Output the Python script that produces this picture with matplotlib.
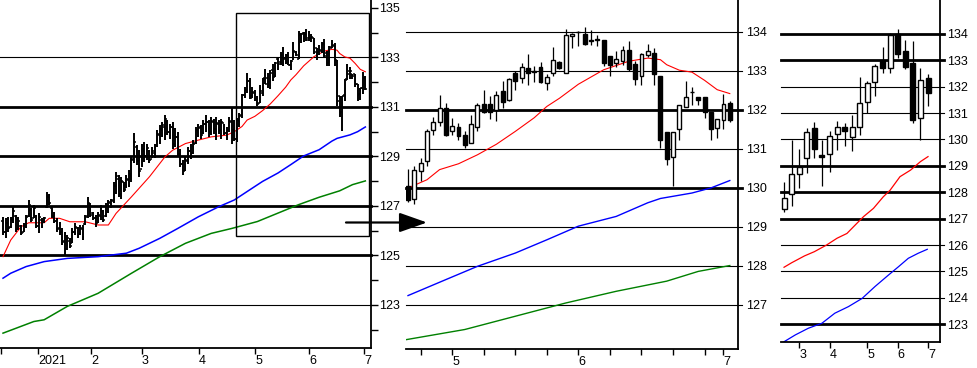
import matplotlib
matplotlib.use('Agg')
import matplotlib.pyplot as plt
from matplotlib.patches import Rectangle, FancyArrowPatch

plt.rcParams['font.family'] = ['Liberation Sans', 'DejaVu Sans']
plt.rcParams['font.size'] = 9

# ---- daily prices, mid Dec 2020 .. 2 Jul 2021 (x = trading day index) ----
d_open = [126.40, 125.95, 126.30, 126.15, 126.45, 126.60, 126.10, 126.20, 125.95, 126.20,
          126.60, 126.85, 126.50, 126.60, 126.20, 126.45, 126.35, 126.95, 127.35, 126.90,
          126.60, 126.40, 126.10, 125.95, 125.60, 125.25, 125.60, 125.50, 125.95, 126.10,
          125.85, 126.05, 126.25, 126.60, 127.00, 126.70, 126.50, 126.30, 126.60, 126.80,
          126.60, 126.90, 127.10, 127.20, 127.80, 128.10, 127.50, 127.95, 127.70, 128.05,
          128.20, 128.90, 129.40, 128.80, 128.50, 129.20, 129.00, 129.20, 128.90, 129.15,
          129.45, 129.85, 130.05, 130.20, 130.40, 130.00, 130.20, 129.50, 129.80, 129.10,
          128.70, 128.45, 128.80, 129.20, 129.15, 129.55, 130.00, 130.20, 129.95, 130.30,
          130.40, 130.00, 130.40, 130.10, 130.30, 130.05, 130.35, 129.95, 130.05, 130.40,
          130.06, 129.72, 130.43, 130.68, 131.48, 131.68, 132.05, 131.45, 131.56, 131.37,
          131.14, 131.56, 132.16, 132.16, 132.00, 132.48, 132.25, 132.95, 132.82, 133.08,
          132.98, 133.10, 132.68, 132.95, 133.23, 132.95, 133.90, 133.99, 133.96, 133.78,
          133.80, 133.79, 133.39, 133.20, 133.25, 133.53, 133.18, 132.86, 133.40, 133.46,
          132.88, 131.44, 130.79, 131.50, 132.08, 132.45, 132.33, 132.33, 131.94, 131.54,
          131.75, 132.18]
d_high = [126.57, 126.50, 126.57, 126.57, 126.97, 126.63, 126.57, 126.23, 126.30, 126.63,
          127.24, 126.90, 127.04, 126.63, 126.70, 126.50, 126.57, 127.57, 127.50, 126.97,
          126.77, 126.50, 126.37, 126.10, 125.96, 125.83, 125.69, 126.10, 126.30, 126.16,
          126.23, 126.23, 126.63, 127.37, 127.10, 126.77, 126.63, 126.77, 127.04, 126.83,
          127.10, 127.24, 127.30, 127.98, 128.38, 128.25, 128.18, 127.98, 128.25, 128.45,
          128.99, 129.93, 129.46, 129.25, 129.52, 129.59, 129.52, 129.25, 129.39, 129.52,
          130.06, 130.26, 130.40, 130.67, 130.46, 130.33, 130.40, 130.13, 129.99, 129.30,
          128.85, 129.00, 129.40, 129.50, 129.65, 130.20, 130.33, 130.26, 130.46, 130.66,
          130.46, 130.60, 130.50, 130.60, 130.46, 130.53, 130.33, 130.20, 130.60, 131.00,
          130.49, 130.57, 130.77, 131.51, 131.82, 132.39, 132.18, 131.79, 131.67, 131.45,
          131.88, 132.18, 132.52, 132.37, 132.48, 132.73, 132.82, 132.99, 133.20, 133.44,
          133.12, 133.22, 132.91, 133.62, 133.25, 134.08, 133.97, 134.02, 134.13, 134.06,
          133.93, 133.79, 133.39, 133.50, 133.63, 133.76, 133.25, 133.47, 133.70, 133.59,
          132.88, 131.44, 131.44, 132.14, 132.74, 132.60, 132.33, 132.33, 131.94, 131.78,
          132.41, 132.24]
d_low = [125.83, 125.69, 125.96, 126.10, 126.30, 125.96, 126.03, 125.83, 125.96, 126.10,
         126.57, 126.37, 126.50, 126.10, 125.90, 126.10, 126.30, 126.90, 127.04, 126.50,
         126.30, 125.96, 125.83, 125.42, 125.02, 125.22, 125.29, 125.49, 125.83, 125.69,
         125.83, 125.63, 126.23, 126.50, 126.57, 126.43, 126.16, 126.30, 126.43, 126.36,
         126.57, 126.70, 126.90, 127.10, 127.50, 127.37, 127.30, 127.57, 127.71, 127.78,
         127.98, 128.72, 128.65, 128.18, 128.58, 128.78, 128.85, 128.72, 128.92, 128.92,
         129.39, 129.52, 129.79, 129.66, 129.86, 129.72, 129.32, 129.39, 128.99, 128.58,
         128.24, 128.40, 128.70, 128.90, 129.10, 129.50, 129.80, 129.70, 129.92, 129.99,
         129.80, 129.86, 129.90, 129.66, 129.92, 129.72, 129.86, 129.66, 130.00, 129.50,
         129.63, 129.59, 130.19, 130.56, 131.37, 131.58, 131.32, 131.37, 131.24, 131.03,
         131.14, 131.45, 131.91, 131.77, 131.71, 132.05, 132.22, 132.50, 132.68, 132.65,
         132.72, 132.70, 132.50, 132.88, 133.05, 132.95, 133.59, 133.63, 133.67, 133.67,
         133.63, 133.13, 132.88, 133.11, 133.16, 132.99, 132.65, 132.65, 133.37, 132.65,
         131.03, 130.60, 130.04, 131.22, 132.08, 132.14, 132.14, 131.79, 131.24, 131.28,
         131.52, 131.68]
d_close = [125.95, 126.30, 126.10, 126.45, 126.80, 126.05, 126.40, 125.90, 126.20, 126.55,
           127.05, 126.45, 126.90, 126.20, 126.55, 126.20, 126.50, 127.40, 127.10, 126.60,
           126.40, 126.05, 125.95, 125.55, 125.15, 125.70, 125.40, 125.95, 126.15, 125.80,
           126.10, 125.75, 126.55, 127.10, 126.65, 126.50, 126.30, 126.65, 126.90, 126.45,
           126.95, 127.15, 127.25, 127.85, 128.20, 127.50, 128.00, 127.65, 128.10, 128.30,
           128.85, 129.60, 128.80, 128.40, 129.30, 129.00, 129.35, 128.85, 129.20, 129.40,
           129.90, 130.10, 130.25, 130.50, 130.00, 130.20, 129.50, 129.80, 129.10, 128.70,
           128.40, 128.85, 129.20, 129.10, 129.50, 130.05, 130.15, 129.85, 130.30, 130.40,
           129.95, 130.45, 130.10, 130.35, 130.05, 130.40, 129.95, 129.80, 130.45, 130.05,
           129.70, 130.47, 130.64, 131.47, 131.69, 132.05, 131.37, 131.60, 131.34, 131.11,
           131.64, 132.14, 131.94, 131.94, 132.39, 132.20, 132.79, 132.74, 133.09, 132.95,
           133.00, 132.71, 132.85, 133.27, 133.08, 133.93, 133.95, 134.00, 133.69, 133.80,
           133.81, 133.21, 133.16, 133.31, 133.53, 133.05, 132.79, 133.44, 133.50, 132.91,
           131.24, 130.74, 131.44, 132.14, 132.33, 132.46, 132.25, 131.94, 131.50, 131.78,
           132.15, 131.73]

# daily moving averages, read at (day index, value)
ma_red_x = [0, 3, 7, 10, 16, 18, 22, 26, 32, 37, 41, 44, 50, 57, 63, 66, 71, 76, 81, 87,
            90, 93, 95, 98, 101, 104, 107, 110, 112, 114, 117, 121, 125, 128, 130, 131,
            133, 135, 137, 139, 141]
ma_red = [124.95, 125.62, 126.16, 126.32, 126.32, 126.50, 126.50, 126.36, 126.36, 126.23,
          126.23, 126.70, 127.37, 128.18, 128.98, 129.25, 129.52, 129.66, 129.79, 129.86,
          130.00, 130.21, 130.47, 130.62, 130.85, 131.12, 131.45, 131.80, 132.09, 132.30,
          132.66, 133.03, 133.25, 133.33, 133.29, 133.16, 133.02, 132.97, 132.76, 132.52,
          132.42]
ma_blue_x = [0, 3, 9, 16, 25, 37, 48, 53, 61, 68, 76, 84, 90, 96, 101, 107, 112, 117,
             123, 128, 130, 135, 138, 141]
ma_blue = [124.08, 124.28, 124.55, 124.75, 124.88, 124.95, 125.09, 125.29, 125.69, 126.09,
           126.56, 126.97, 127.24, 127.65, 127.99, 128.33, 128.67, 129.02, 129.27, 129.62,
           129.73, 129.87, 130.00, 130.19]
ma_green_x = [0, 12, 16, 25, 37, 50, 61, 71, 81, 89, 99, 107, 115, 123, 131, 136, 141]
ma_green = [121.86, 122.33, 122.40, 122.94, 123.47, 124.28, 124.95, 125.49, 125.89, 126.09,
            126.37, 126.71, 127.05, 127.35, 127.61, 127.86, 128.01]

# ---- weekly candles (x = week index) ----
w_open = [127.37, 127.93, 128.71, 129.28, 130.42, 129.41, 129.43, 130.20, 130.48, 130.10,
          130.46, 131.40, 132.16, 132.97, 132.69, 133.99, 133.36, 132.88, 130.80, 132.31]
w_high = [128.37, 129.98, 129.64, 130.42, 130.67, 129.98, 130.32, 130.71, 130.61, 130.92,
          132.35, 132.21, 132.85, 133.51, 134.04, 134.17, 133.76, 133.72, 132.69, 132.48]
w_low = [127.26, 127.49, 128.17, 128.74, 129.28, 128.25, 128.78, 129.60, 129.76, 129.57,
         130.17, 130.99, 131.64, 132.50, 132.53, 133.09, 132.66, 130.61, 129.98, 131.28]
w_close = [127.79, 128.68, 128.97, 130.27, 129.62, 129.32, 130.14, 130.48, 130.33, 130.48,
           131.37, 132.12, 132.78, 132.71, 133.95, 133.22, 132.75, 130.73, 132.25, 131.74]
wma_red_x = [0, 1, 2.7, 4, 5.6, 7, 8.3, 9.6, 10.5, 11.8, 13.1, 14, 15.3, 16.7, 18, 19]
wma_red = [125.16, 125.33, 125.59, 125.75, 126.00, 126.26, 126.44, 126.82, 127.08, 127.39,
           127.83, 128.08, 128.59, 128.84, 129.16, 129.35]
wma_blue_x = [0, 1.5, 3.2, 5, 6.7, 8.5, 10.3, 12, 13.8, 15.1, 16.4, 17.7, 18.9]
wma_blue = [122.34, 122.60, 122.85, 123.04, 123.42, 123.67, 123.98, 124.43, 124.87, 125.18,
            125.50, 125.69, 125.84]

W, H = 978, 368
fig = plt.figure(figsize=(W / 100, H / 100), dpi=100)


def add_ax(x0, x1, ybot):
    ax = fig.add_axes([x0 / W, (H - ybot) / H, (x1 - x0) / W, ybot / H])
    for s in ['top', 'left']:
        ax.spines[s].set_visible(False)
    ax.spines['right'].set_linewidth(1.3)
    ax.spines['bottom'].set_linewidth(1.3)
    ax.yaxis.tick_right()
    ax.tick_params(axis='x', direction='out', length=4, width=1, pad=1)
    return ax


def hgrid(ax, levels, thick, ext):
    for v in levels:
        ax.plot([0, 1 + ext], [v, v], transform=ax.get_yaxis_transform(), color='black',
                lw=2.0 if v in thick else 0.8, zorder=1, clip_on=False)


def candles(ax, xs, o, h, l, c, w):
    for x, oo, hh, ll, cc in zip(xs, o, h, l, c):
        ax.vlines(x, ll, hh, color='black', lw=0.9, zorder=3)
        lo = min(oo, cc)
        ht = max(abs(cc - oo), 0.02)
        face = 'white' if cc > oo else 'black'
        ax.add_patch(Rectangle((x - w / 2, lo), w, ht, facecolor=face, edgecolor='black',
                               lw=1.0, zorder=4))


xs = list(range(len(d_close)))

# ---- left: daily bars ----
ax1 = add_ax(0, 371, 348)
ax1.set_xlim(-1.17, 143.2)
ax1.set_ylim(121.26, 135.32)
hgrid(ax1, [123, 125, 127, 129, 131, 133], [125, 127, 129, 131], 0)
ax1.plot(ma_red_x, ma_red, color='#ff0000', lw=0.8, zorder=2)
ax1.plot(ma_blue_x, ma_blue, color='#0000ff', lw=1.1, zorder=2)
ax1.plot(ma_green_x, ma_green, color='#008000', lw=1.1, zorder=2)
ax1.vlines(xs, d_low, d_high, color='black', lw=1.4, zorder=3)
ax1.hlines(d_open, [x - 0.7 for x in xs], xs, color='black', lw=1.1, zorder=3)
ax1.hlines(d_close, xs, [x + 0.7 for x in xs], color='black', lw=1.1, zorder=3)
ax1.add_patch(Rectangle((90.7, 125.79), 51.7, 9.02, fill=False, edgecolor='black',
                        lw=1.0, zorder=5, clip_on=False))
ax1.set_yticks([123, 125, 127, 129, 131, 133, 135])
ax1.set_yticks([122, 124, 126, 128, 130, 132, 134], minor=True)
ax1.tick_params(axis='y', which='both', direction='out', length=5, width=1, pad=1)
ax1.set_xticks([-0.8, 13.6, 34.2, 54.1, 76.3, 98.1, 119.1, 140.5])
ax1.set_xticklabels(['', '2021', '2', '3', '4', '5', '6', '7'], ha='left')

# ---- middle: zoomed daily candles ----
ax2 = add_ax(406, 738, 349)
ax2.set_xlim(89.68, 142.3)
ax2.set_ylim(125.87, 134.82)
hgrid(ax2, [127, 128, 129, 130, 131, 132, 133, 134], [130, 132], 4 / 332)
ax2.plot(ma_red_x[20:], ma_red[20:], color='#ff0000', lw=0.8, zorder=2)
ax2.plot(ma_blue_x[12:], ma_blue[12:], color='#0000ff', lw=1.0, zorder=2)
ax2.plot(ma_green_x[9:], ma_green[9:], color='#008000', lw=1.0, zorder=2)
candles(ax2, xs[90:], d_open[90:], d_high[90:], d_low[90:], d_close[90:], 0.62)
ax2.set_yticks([127, 128, 129, 130, 131, 132, 133, 134])
ax2.tick_params(axis='y', length=0, pad=6)
ax2.set_xticks([97, 117, 140])
ax2.set_xticklabels(['5', '6', '7'], ha='left')
ax2.set_xticks([92, 102, 107, 112, 122, 127, 132, 137], minor=True)
ax2.tick_params(axis='x', which='minor', direction='out', length=4, width=1)

# ---- right: weekly candles ----
wx = list(range(len(w_close)))
ax3 = add_ax(781, 940, 342)
ax3.set_xlim(-0.4, 20.58)
ax3.set_ylim(122.33, 135.28)
hgrid(ax3, list(range(123, 135)), [123, 127, 128, 129, 133, 134], 4 / 159)
ax3.plot(wma_red_x, wma_red, color='#ff0000', lw=0.9, zorder=2)
ax3.plot(wma_blue_x, wma_blue, color='#0000ff', lw=0.9, zorder=2)
candles(ax3, wx, w_open, w_high, w_low, w_close, 0.66)
ax3.set_yticks(list(range(123, 135)))
ax3.tick_params(axis='y', length=0, pad=5)
ax3.set_xticks([2, 6, 11, 15, 19])
ax3.set_xticklabels(['3', '4', '5', '6', '7'], ha='left')

# arrow from the box to the zoomed panel
ya = 1 - 222.5 / H
fig.patches.append(FancyArrowPatch((346 / W, ya), (427 / W, ya), transform=fig.transFigure,
                                   arrowstyle='-|>,head_length=1.7,head_width=0.6',
                                   mutation_scale=10, lw=1.6, color='black',
                                   shrinkA=0, shrinkB=0))

fig.savefig('out.png', dpi=100)
